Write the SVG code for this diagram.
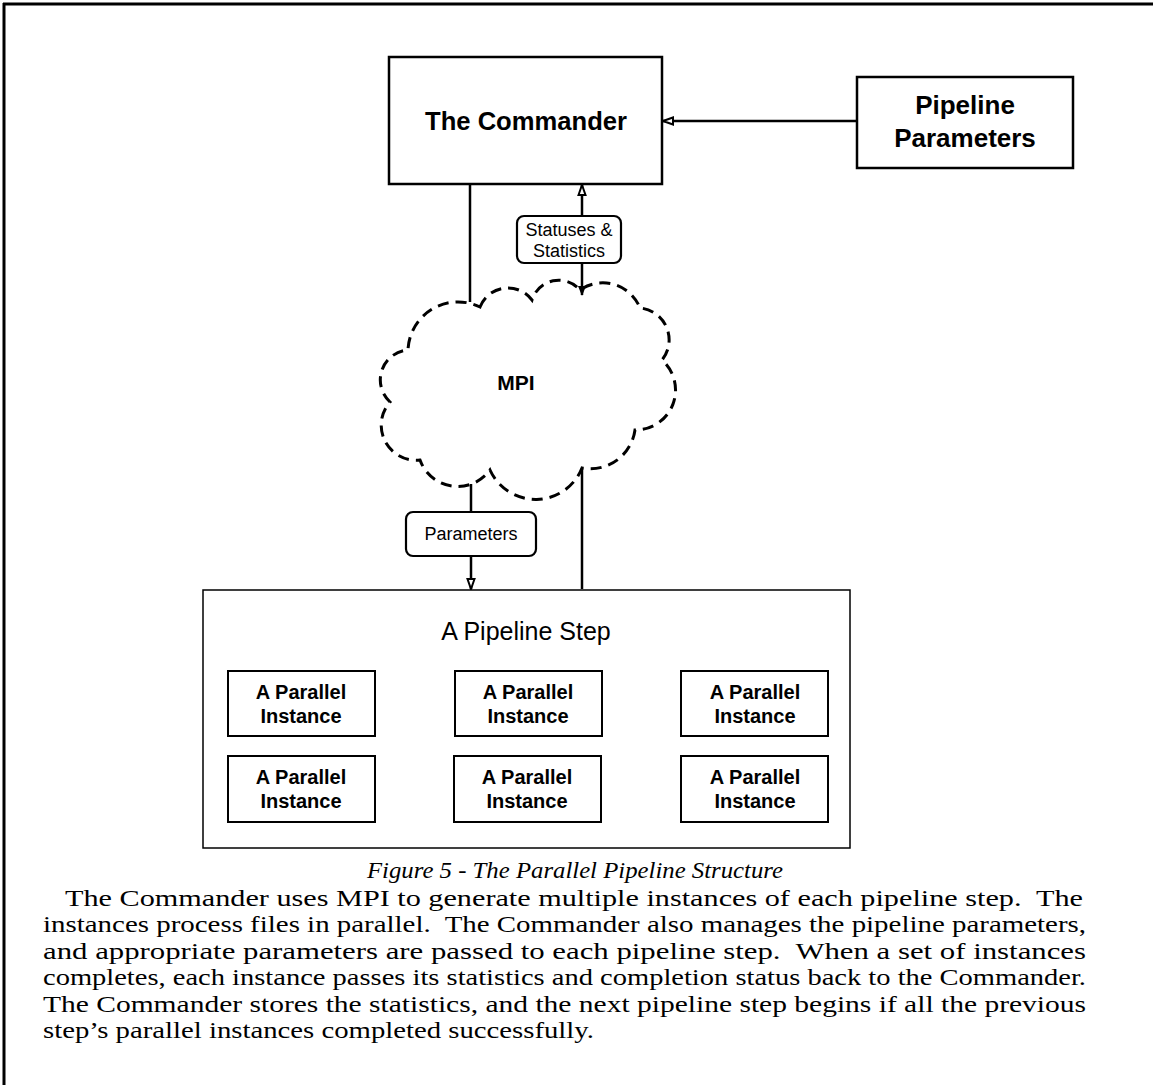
<svg xmlns="http://www.w3.org/2000/svg" width="1153" height="1085" viewBox="0 0 1153 1085">
<style>
.box{fill:#fff;stroke:#000;stroke-width:2.5}
.thin{fill:#fff;stroke:#000;stroke-width:1.5}
.inst{fill:#fff;stroke:#000;stroke-width:2}
.lbl{fill:#fff;stroke:#000;stroke-width:2.2}
.ln{fill:none;stroke:#000;stroke-width:2.5}
.sans{font-family:"Liberation Sans",Arial,sans-serif;fill:#000;text-anchor:middle}
.b{font-weight:bold}
.serif{font-family:"Liberation Serif","Times New Roman",serif;fill:#000;font-size:24px}
</style>
<defs>
<marker id="open" viewBox="0 0 12 10" refX="11" refY="5" markerWidth="12" markerHeight="10" markerUnits="userSpaceOnUse" orient="auto">
<path d="M1,1.5 L11,5 L1,8.5 Z" fill="#fff" stroke="#000" stroke-width="2"/>
</marker>
<marker id="solid" viewBox="0 0 10 10" refX="9" refY="5" markerWidth="10" markerHeight="10" markerUnits="userSpaceOnUse" orient="auto">
<path d="M0,1 L10,5 L0,9 Z" fill="#000"/>
</marker>
</defs>
<rect width="1153" height="1085" fill="#fff"/>
<g id="frame">
<path d="M3,4 H1153 M4,3 V1085" fill="none" stroke="#000" stroke-width="3"/>
</g>
<g id="connectors">
<line class="ln" x1="857" y1="121" x2="663" y2="121" marker-end="url(#open)"/>
<line class="ln" x1="582" y1="216" x2="582" y2="185" marker-end="url(#open)"/>
<line class="ln" x1="582" y1="263" x2="582" y2="295" marker-end="url(#solid)"/>
<line class="ln" x1="470" y1="184" x2="470" y2="302"/>
<line class="ln" x1="471" y1="484" x2="471" y2="512"/>
<line class="ln" x1="471" y1="556" x2="471" y2="589" marker-end="url(#open)"/>
<line class="ln" x1="582" y1="589" x2="582" y2="468"/>
</g>
<g id="commander">
<rect class="box" x="389" y="57" width="273" height="127"/>
<text class="sans b" x="526" y="130" font-size="26" textLength="202" lengthAdjust="spacingAndGlyphs">The Commander</text>
</g>
<g id="pipeline-parameters">
<rect class="box" x="857" y="77" width="216" height="91"/>
<text class="sans b" x="965" y="114" font-size="26">Pipeline</text>
<text class="sans b" x="965" y="147" font-size="26">Parameters</text>
</g>
<g id="statuses-label">
<rect class="lbl" x="517" y="216" width="104" height="47" rx="7"/>
<text class="sans" x="569" y="236" font-size="18">Statuses &amp;</text>
<text class="sans" x="569" y="257" font-size="18">Statistics</text>
</g>
<g id="mpi">
<path d="M480,307 A30,30 0 0 1 532,300 A28,28 0 0 1 580,290 A40,40 0 0 1 640,308 A32,32 0 0 1 662,360 A40,40 0 0 1 635,430 A45,45 0 0 1 582,468 A50,50 0 0 1 490,470 A40,40 0 0 1 420,460 A35,35 0 0 1 390,402 A30,30 0 0 1 408,350 A50,50 0 0 1 480,307 Z" fill="none" stroke="#000" stroke-width="3" stroke-dasharray="11 7"/>
<text class="sans b" x="516" y="390" font-size="21">MPI</text>
</g>
<g id="parameters-label">
<rect class="lbl" x="406" y="512" width="130" height="44" rx="7"/>
<text class="sans" x="471" y="540" font-size="18">Parameters</text>
</g>
<g id="pipeline-step">
<rect class="thin" x="203" y="590" width="647" height="258"/>
<text class="sans" x="526" y="640" font-size="25">A Pipeline Step</text>
</g>
<g id="instance-1">
<rect class="inst" x="228" y="671" width="147" height="65"/>
<text class="sans b" x="301" y="699" font-size="20">A Parallel</text>
<text class="sans b" x="301" y="723" font-size="20">Instance</text>
</g>
<g id="instance-2">
<rect class="inst" x="455" y="671" width="147" height="65"/>
<text class="sans b" x="528" y="699" font-size="20">A Parallel</text>
<text class="sans b" x="528" y="723" font-size="20">Instance</text>
</g>
<g id="instance-3">
<rect class="inst" x="681" y="671" width="147" height="65"/>
<text class="sans b" x="755" y="699" font-size="20">A Parallel</text>
<text class="sans b" x="755" y="723" font-size="20">Instance</text>
</g>
<g id="instance-4">
<rect class="inst" x="228" y="756" width="147" height="66"/>
<text class="sans b" x="301" y="784" font-size="20">A Parallel</text>
<text class="sans b" x="301" y="808" font-size="20">Instance</text>
</g>
<g id="instance-5">
<rect class="inst" x="454" y="756" width="147" height="66"/>
<text class="sans b" x="527" y="784" font-size="20">A Parallel</text>
<text class="sans b" x="527" y="808" font-size="20">Instance</text>
</g>
<g id="instance-6">
<rect class="inst" x="681" y="756" width="147" height="66"/>
<text class="sans b" x="755" y="784" font-size="20">A Parallel</text>
<text class="sans b" x="755" y="808" font-size="20">Instance</text>
</g>
<g id="caption">
<text class="serif" x="367" y="878" font-style="italic" textLength="416" lengthAdjust="spacingAndGlyphs">Figure 5 - The Parallel Pipeline Structure</text>
<text class="serif" x="65" y="906" textLength="1018" lengthAdjust="spacingAndGlyphs" xml:space="preserve">The Commander uses MPI to generate multiple instances of each pipeline step.  The</text>
<text class="serif" x="43" y="932" textLength="1043" lengthAdjust="spacingAndGlyphs" xml:space="preserve">instances process files in parallel.  The Commander also manages the pipeline parameters,</text>
<text class="serif" x="43" y="959" textLength="1043" lengthAdjust="spacingAndGlyphs" xml:space="preserve">and appropriate parameters are passed to each pipeline step.  When a set of instances</text>
<text class="serif" x="43" y="985" textLength="1043" lengthAdjust="spacingAndGlyphs">completes, each instance passes its statistics and completion status back to the Commander.</text>
<text class="serif" x="43" y="1012" textLength="1043" lengthAdjust="spacingAndGlyphs">The Commander stores the statistics, and the next pipeline step begins if all the previous</text>
<text class="serif" x="43" y="1038" textLength="551" lengthAdjust="spacingAndGlyphs">step’s parallel instances completed successfully.</text>
</g>
</svg>
